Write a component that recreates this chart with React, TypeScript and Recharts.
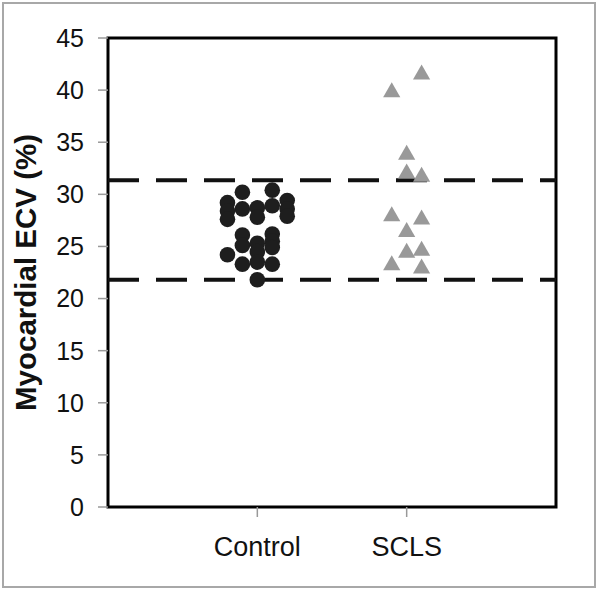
import {
  ReferenceArea,
  ReferenceLine,
  Scatter,
  ScatterChart,
  XAxis,
  YAxis,
} from 'recharts';

document.body.style.margin = '0';

const groups = ['Control', 'SCLS'];
const yTicks = [0, 5, 10, 15, 20, 25, 30, 35, 40, 45];
const normalRange = [21.8, 31.35];

// ECV values with the column each dot sits in (-2..2) inside its group
const controlValues = [
  30.2, 30.4, 29.2, 29.4, 28.6, 28.7, 28.9, 28.4, 28.6, 27.6, 27.8, 27.9,
  26.1, 25.1, 23.3, 26.2, 25.5, 24.9, 23.3, 25.3, 24.5, 23.5, 21.8, 24.2,
];
const controlCols = [
  -1, 1, -2, 2, -1, 0, 1, -2, 2, -2, 0, 2,
  -1, -1, -1, 1, 1, 1, 1, 0, 0, 0, 0, -2,
];
const sclsValues = [41.7, 40.0, 34.0, 32.2, 31.9, 28.1, 27.8, 26.6, 24.6, 24.8, 23.4, 23.1];
const sclsCols = [1, -1, 0, 0, 1, -1, 1, 0, 0, 1, -1, 1];

const toPoints = (values: number[], cols: number[], group: number) =>
  values.map((v, i) => ({ x: group + 1 + cols[i] * 0.1, y: v }));

const controlData = toPoints(controlValues, controlCols, 0);
const sclsData = toPoints(sclsValues, sclsCols, 1);

const font = '"Liberation Sans", Arial, sans-serif';

const Dot = (props: any) => {
  const { cx, cy } = props;
  return <circle cx={cx} cy={cy} r={7.8} fill="#1e1e1e" />;
};

const Tri = (props: any) => {
  const { cx, cy } = props;
  return (
    <polygon
      points={`${cx},${cy - 7.8} ${cx - 8.6},${cy + 7.2} ${cx + 8.6},${cy + 7.2}`}
      fill="#999999"
    />
  );
};

export default function App() {
  return (
    <div style={{ position: 'relative', width: 600, height: 589, background: '#fff' }}>
      <ScatterChart
        width={600}
        height={589}
        margin={{ top: 38, right: 44, bottom: 22, left: 0 }}
      >
        <XAxis
          type="number"
          dataKey="x"
          domain={[0, 3]}
          ticks={[1, 2]}
          tickFormatter={(v) => groups[Number(v) - 1] ?? ''}
          axisLine={false}
          tickLine={{ stroke: '#999', strokeWidth: 1.5 }}
          tickSize={10}
          tickMargin={20}
          height={60}
          tick={{ fontSize: 27, fill: '#111', fontFamily: font }}
        />
        <YAxis
          type="number"
          dataKey="y"
          domain={[0, 45]}
          ticks={yTicks}
          interval={0}
          axisLine={false}
          tickLine={{ stroke: '#999', strokeWidth: 1.5 }}
          tickSize={10}
          tickMargin={14}
          width={108}
          tick={{ fontSize: 25, fill: '#111', fontFamily: font }}
          label={{
            value: 'Myocardial ECV (%)',
            angle: -90,
            position: 'insideLeft',
            offset: 26,
            style: {
              textAnchor: 'middle',
              fontSize: 29.5,
              fontWeight: 'bold',
              fill: '#111',
              fontFamily: font,
            },
          }}
        />
        <ReferenceArea
          x1={0}
          x2={3}
          y1={0}
          y2={45}
          fill="none"
          stroke="#000"
          strokeWidth={3}
          fillOpacity={0}
        />
        {normalRange.map((v) => (
          <ReferenceLine
            key={v}
            y={v}
            stroke="#111"
            strokeWidth={4}
            strokeDasharray="31 17"
          />
        ))}
        <Scatter data={controlData} shape={Dot} isAnimationActive={false} />
        <Scatter data={sclsData} shape={Tri} isAnimationActive={false} />
      </ScatterChart>
      <div
        style={{
          position: 'absolute',
          left: 2,
          top: 2,
          width: 594,
          height: 586,
          border: '2px solid #a8a8a8',
          boxSizing: 'border-box',
          pointerEvents: 'none',
        }}
      />
    </div>
  );
}
